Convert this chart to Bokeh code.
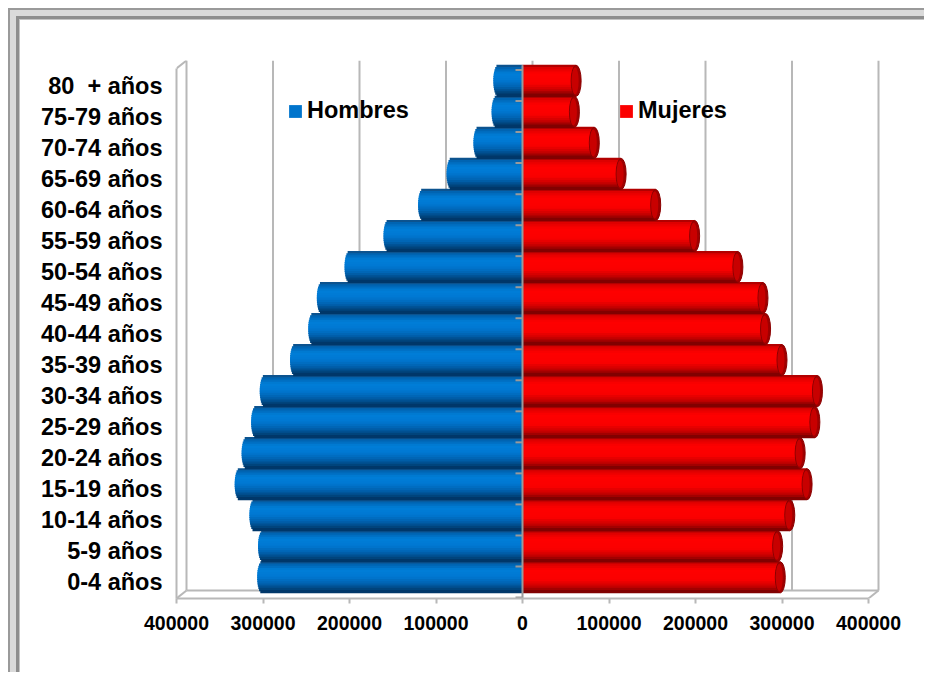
import math
from bokeh.plotting import figure
from bokeh.models import ColumnDataSource, Range1d, FixedTicker, Legend, LegendItem
from bokeh.embed import file_html
from bokeh.resources import INLINE

# ---------------- data ----------------
age_groups = ["0-4 años", "5-9 años", "10-14 años", "15-19 años", "20-24 años",
              "25-29 años", "30-34 años", "35-39 años", "40-44 años", "45-49 años",
              "50-54 años", "55-59 años", "60-64 años", "65-69 años", "70-74 años",
              "75-79 años", "80\u00a0 + años"]
hombres = [301000, 300000, 310000, 327000, 319000, 308000, 298000, 263000, 242000,
           232000, 200000, 155000, 115000, 82000, 51000, 30000, 28000]
mujeres = [298000, 295000, 309000, 329000, 321000, 338000, 341000, 300000, 281000,
           278000, 249000, 199000, 154000, 114000, 83000, 60000, 62000]
x_ticks = [-400000, -300000, -200000, -100000, 0, 100000, 200000, 300000, 400000]
x_tick_labels = ["400000", "300000", "200000", "100000", "0",
                 "100000", "200000", "300000", "400000"]
series_names = ["Hombres", "Mujeres"]

# ---------------- geometry (style) ----------------
W, H = 924, 672
MB_L, MB_T = 176, 60
MB_R, MB_B = W - 880, H - 598
UX = 800000 / 692.0          # data units per px (x)
UY = 1 / 31.03               # data units per px (y)
X0, X1 = -400000, -400000 + (W - MB_L - MB_R) * UX
Y0 = -16.5 * UY
Y1 = Y0 + (H - MB_T - MB_B) * UY
DX, DY = 10 * UX, 8 * UY     # depth offset of the back wall
SHIFT = 4.7 * UY             # bars sit half-way in depth
A = 5 * UX                   # half-width of the cylinder end ellipse
N = 14                       # shading stripes per cylinder
GRID = "#B8B8B8"

blue_stops = [(0.0, (25, 70, 115)), (0.07, (0, 95, 170)), (0.28, (0, 126, 216)),
              (0.5, (0, 120, 210)), (0.72, (0, 98, 176)), (0.88, (0, 70, 128)),
              (1.0, (0, 48, 95))]
red_stops = [(0.0, (140, 0, 0)), (0.07, (215, 0, 0)), (0.28, (255, 0, 0)),
             (0.6, (250, 0, 0)), (0.8, (205, 0, 0)), (0.92, (150, 0, 0)),
             (1.0, (112, 0, 0))]


def shade(stops, s):
    for (s0, c0), (s1, c1) in zip(stops[:-1], stops[1:]):
        if s0 <= s <= s1:
            f = (s - s0) / (s1 - s0)
            c = [round(a + (b - a) * f) for a, b in zip(c0, c1)]
            return "#%02x%02x%02x" % tuple(c)
    return "#%02x%02x%02x" % stops[-1][1]


p = figure(width=W, height=H, output_backend="svg", toolbar_location=None,
           x_range=Range1d(X0, X1), y_range=Range1d(Y0, Y1),
           min_border_left=MB_L, min_border_right=MB_R,
           min_border_top=MB_T, min_border_bottom=MB_B)
p.border_fill_color = None
p.background_fill_color = "white"
p.outline_line_color = None
p.xgrid.visible = False
p.ygrid.visible = False
p.styles = {
    "background-color": "white",
    "box-shadow": "inset 8px 8px 0 0 #ffffff, inset 10px 10px 0 0 #9a9a9a, "
                  "inset 16px 16px 0 0 #dadada, inset 19px 19px 0 0 #8e8e8e, "
                  "inset 20px 20px 0 0 #c4c4c4",
}

# ---------------- back wall / floor ----------------
top_back = Y1
floor_back = Y0 + DY
p.segment(x0=[t + DX for t in x_ticks], y0=[floor_back] * len(x_ticks),
          x1=[t + DX for t in x_ticks], y1=[top_back] * len(x_ticks),
          line_color=GRID, line_width=2)
p.segment(x0=[x_ticks[0] + DX, x_ticks[0], x_ticks[-1], x_ticks[0]],
          y0=[floor_back, Y0, Y0, top_back - DY],
          x1=[x_ticks[-1] + DX, x_ticks[0] + DX, x_ticks[-1] + DX, x_ticks[0] + DX],
          y1=[floor_back, floor_back, floor_back, top_back],
          line_color=GRID, line_width=2)

# ---------------- cylinders ----------------
bl, br, by, bc = [], [], [], []
rl, rr, ry, rc = [], [], [], []
for i, (h, m) in enumerate(zip(hombres, mujeres)):
    for k in range(N):
        s = (k + 0.5) / N
        yc = i + SHIFT + 0.5 - s
        t = 1 - 2 * s
        round_end = A * math.sqrt(max(0.0, 1 - t * t))
        bl.append(-(h + round_end)); br.append(0); by.append(yc); bc.append(shade(blue_stops, s))
        rl.append(0); rr.append(m); ry.append(yc); rc.append(shade(red_stops, s))

blue_r = p.hbar(y="y", left="l", right="r", height=1.5 / N, fill_color="c", line_color=None,
                source=ColumnDataSource(dict(y=by, l=bl, r=br, c=bc)))
red_r = p.hbar(y="y", left="l", right="r", height=1.5 / N, fill_color="c", line_color=None,
               source=ColumnDataSource(dict(y=ry, l=rl, r=rr, c=rc)))
cap_y = [i + SHIFT for i in range(len(mujeres))]
p.ellipse(x=mujeres, y=cap_y, width=2 * A, height=1.0,
          fill_color="#A00000", line_color="#8a0000", line_width=1)
p.ellipse(x=[m - 0.2 * A for m in mujeres], y=cap_y, width=1.4 * A, height=0.86,
          fill_color="#C80000", line_color=None)

# zero axis with category ticks
p.segment(x0=[0], y0=[Y0], x1=[0], y1=[len(age_groups) - 0.5 + SHIFT],
          line_color="#9a9a9a", line_width=2)
bounds = [i - 0.5 for i in range(len(age_groups) + 1)]
p.segment(x0=[-7 * UX] * len(bounds), y0=bounds, x1=[0] * len(bounds), y1=bounds,
          line_color="#9a9a9a", line_width=2)

# ---------------- axes ----------------
xa = p.xaxis[0]
xa.ticker = FixedTicker(ticks=x_ticks)
xa.major_label_overrides = {t: l for t, l in zip(x_ticks, x_tick_labels)}
xa.bounds = (x_ticks[0], x_ticks[-1])
xa.axis_line_color = GRID
xa.axis_line_width = 2
xa.major_tick_line_color = GRID
xa.major_tick_line_width = 2
xa.major_tick_out = 5
xa.major_tick_in = 0
xa.minor_tick_line_color = None
xa.major_label_standoff = 12
xa.major_label_text_font = "Liberation Sans"
xa.major_label_text_font_style = "bold"
xa.major_label_text_font_size = "19.5px"
xa.major_label_text_color = "black"

ya = p.yaxis[0]
ya.ticker = FixedTicker(ticks=list(range(len(age_groups))))
ya.major_label_overrides = {i: l for i, l in enumerate(age_groups)}
ya.bounds = (Y0, Y1 - DY)
ya.axis_line_color = GRID
ya.axis_line_width = 2
ya.major_tick_out = 0
ya.major_tick_in = 0
ya.minor_tick_line_color = None
ya.major_label_standoff = 14
ya.major_label_text_font = "Liberation Sans"
ya.major_label_text_font_style = "bold"
ya.major_label_text_font_size = "23.5px"
ya.major_label_text_color = "black"

# ---------------- legends ----------------
mid = N // 2
legend_pos = [(111, 474), (442, 474)]
for name, rend, loc in zip(series_names, [blue_r, red_r], legend_pos):
    lg = Legend(items=[LegendItem(label=name, renderers=[rend], index=mid)], location=loc,
                padding=0, margin=0, spacing=0, glyph_width=16, glyph_height=16,
                label_standoff=4, label_text_font="Liberation Sans",
                label_text_font_style="bold", label_text_font_size="23.5px",
                label_text_color="black", background_fill_alpha=0,
                border_line_alpha=0)
    p.add_layout(lg)

open("out.html", "w").write(file_html(p, INLINE))
